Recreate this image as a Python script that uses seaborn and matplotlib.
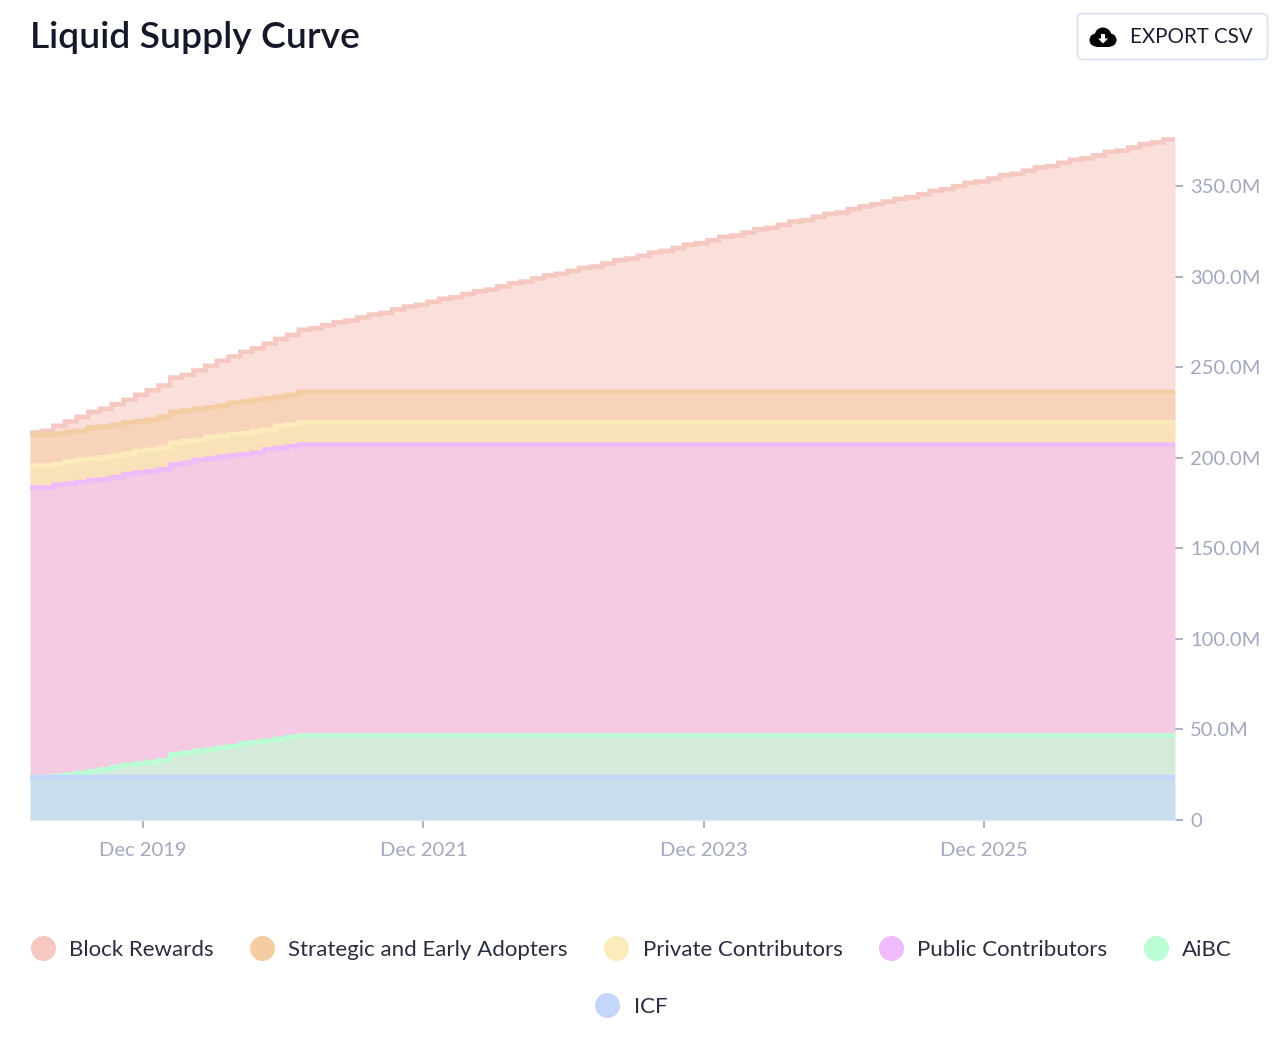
import matplotlib
matplotlib.use('Agg')
import matplotlib.pyplot as plt
from matplotlib.lines import Line2D
from matplotlib.patches import Circle, FancyBboxPatch, Polygon, Rectangle
import numpy as np
import pandas as pd
import seaborn as sns

# stacked tops per month, in millions
block_rewards = [214.0, 214.9, 217.7, 220.0, 222.6, 225.4, 227.1, 229.6, 232.0, 234.8,
                 237.3, 239.9, 244.3, 245.8, 248.2, 250.8, 253.6, 255.9, 258.5, 260.4,
                 263.0, 265.6, 267.9, 270.7, 271.6, 273.2, 274.9, 275.8, 277.5, 279.1,
                 280.0, 281.9, 283.5, 284.5, 286.1, 287.8, 288.7, 290.4, 292.0, 292.9,
                 294.6, 296.4, 297.3, 299.0, 300.7, 301.6, 303.2, 304.8, 305.6, 307.3,
                 309.1, 310.0, 311.5, 313.3, 314.2, 315.9, 317.7, 318.5, 320.1, 322.0,
                 322.7, 324.4, 326.2, 327.0, 328.6, 330.5, 331.2, 333.1, 334.7, 335.4,
                 337.3, 338.8, 340.0, 341.5, 343.0, 343.9, 345.5, 347.4, 348.3, 350.0,
                 351.8, 352.6, 354.2, 356.1, 356.8, 358.5, 360.3, 361.0, 362.9, 364.5,
                 365.4, 367.0, 368.9, 369.6, 371.3, 373.2, 374.1, 375.8]
strategic = [212.7, 212.7, 213.4, 214.4, 214.9, 216.9, 217.3, 218.2, 219.5, 220.2,
             221.0, 222.8, 225.4, 226.1, 227.1, 227.8, 228.7, 230.4, 231.1, 232.0,
             232.9, 233.7, 234.8, 236.4, 236.4, 236.4, 236.4, 236.4, 236.4, 236.4,
             236.4, 236.4, 236.4, 236.4, 236.4, 236.4, 236.4, 236.4, 236.4, 236.4,
             236.4, 236.4, 236.4, 236.4, 236.4, 236.4, 236.4, 236.4, 236.4, 236.4,
             236.4, 236.4, 236.4, 236.4, 236.4, 236.4, 236.4, 236.4, 236.4, 236.4,
             236.4, 236.4, 236.4, 236.4, 236.4, 236.4, 236.4, 236.4, 236.4, 236.4,
             236.4, 236.4, 236.4, 236.4, 236.4, 236.4, 236.4, 236.4, 236.4, 236.4,
             236.4, 236.4, 236.4, 236.4, 236.4, 236.4, 236.4, 236.4, 236.4, 236.4,
             236.4, 236.4, 236.4, 236.4, 236.4, 236.4, 236.4, 236.4]
private = [195.6, 195.6, 196.5, 198.0, 198.9, 199.4, 200.3, 201.1, 202.4, 203.9,
           204.4, 205.5, 208.4, 209.2, 209.9, 211.6, 212.1, 213.0, 213.6, 214.9,
           215.6, 217.7, 218.4, 219.5, 219.5, 219.5, 219.5, 219.5, 219.5, 219.5,
           219.5, 219.5, 219.5, 219.5, 219.5, 219.5, 219.5, 219.5, 219.5, 219.5,
           219.5, 219.5, 219.5, 219.5, 219.5, 219.5, 219.5, 219.5, 219.5, 219.5,
           219.5, 219.5, 219.5, 219.5, 219.5, 219.5, 219.5, 219.5, 219.5, 219.5,
           219.5, 219.5, 219.5, 219.5, 219.5, 219.5, 219.5, 219.5, 219.5, 219.5,
           219.5, 219.5, 219.5, 219.5, 219.5, 219.5, 219.5, 219.5, 219.5, 219.5,
           219.5, 219.5, 219.5, 219.5, 219.5, 219.5, 219.5, 219.5, 219.5, 219.5,
           219.5, 219.5, 219.5, 219.5, 219.5, 219.5, 219.5, 219.5]
public = [183.6, 183.6, 185.1, 185.8, 186.7, 187.7, 188.2, 189.3, 191.1, 191.9,
          192.6, 193.7, 196.3, 197.2, 198.9, 199.6, 200.5, 201.3, 202.0, 202.9,
          204.6, 205.5, 206.4, 207.3, 207.3, 207.3, 207.3, 207.3, 207.3, 207.3,
          207.3, 207.3, 207.3, 207.3, 207.3, 207.3, 207.3, 207.3, 207.3, 207.3,
          207.3, 207.3, 207.3, 207.3, 207.3, 207.3, 207.3, 207.3, 207.3, 207.3,
          207.3, 207.3, 207.3, 207.3, 207.3, 207.3, 207.3, 207.3, 207.3, 207.3,
          207.3, 207.3, 207.3, 207.3, 207.3, 207.3, 207.3, 207.3, 207.3, 207.3,
          207.3, 207.3, 207.3, 207.3, 207.3, 207.3, 207.3, 207.3, 207.3, 207.3,
          207.3, 207.3, 207.3, 207.3, 207.3, 207.3, 207.3, 207.3, 207.3, 207.3,
          207.3, 207.3, 207.3, 207.3, 207.3, 207.3, 207.3, 207.3]
aibc = [23.7, 23.7, 24.4, 25.1, 26.1, 26.9, 27.9, 29.4, 30.5, 31.2,
        32.1, 33.0, 36.3, 37.1, 38.2, 38.9, 39.9, 40.8, 42.4, 43.0,
        43.9, 44.8, 45.9, 46.7, 46.7, 46.7, 46.7, 46.7, 46.7, 46.7,
        46.7, 46.7, 46.7, 46.7, 46.7, 46.7, 46.7, 46.7, 46.7, 46.7,
        46.7, 46.7, 46.7, 46.7, 46.7, 46.7, 46.7, 46.7, 46.7, 46.7,
        46.7, 46.7, 46.7, 46.7, 46.7, 46.7, 46.7, 46.7, 46.7, 46.7,
        46.7, 46.7, 46.7, 46.7, 46.7, 46.7, 46.7, 46.7, 46.7, 46.7,
        46.7, 46.7, 46.7, 46.7, 46.7, 46.7, 46.7, 46.7, 46.7, 46.7,
        46.7, 46.7, 46.7, 46.7, 46.7, 46.7, 46.7, 46.7, 46.7, 46.7,
        46.7, 46.7, 46.7, 46.7, 46.7, 46.7, 46.7, 46.7]
icf = [23.7, 23.7, 23.7, 23.7, 23.7, 23.7, 23.7, 23.7, 23.7, 23.7,
       23.7, 23.7, 23.7, 23.7, 23.7, 23.7, 23.7, 23.7, 23.7, 23.7,
       23.7, 23.7, 23.7, 23.7, 23.7, 23.7, 23.7, 23.7, 23.7, 23.7,
       23.7, 23.7, 23.7, 23.7, 23.7, 23.7, 23.7, 23.7, 23.7, 23.7,
       23.7, 23.7, 23.7, 23.7, 23.7, 23.7, 23.7, 23.7, 23.7, 23.7,
       23.7, 23.7, 23.7, 23.7, 23.7, 23.7, 23.7, 23.7, 23.7, 23.7,
       23.7, 23.7, 23.7, 23.7, 23.7, 23.7, 23.7, 23.7, 23.7, 23.7,
       23.7, 23.7, 23.7, 23.7, 23.7, 23.7, 23.7, 23.7, 23.7, 23.7,
       23.7, 23.7, 23.7, 23.7, 23.7, 23.7, 23.7, 23.7, 23.7, 23.7,
       23.7, 23.7, 23.7, 23.7, 23.7, 23.7, 23.7, 23.7]

series_names = ['Block Rewards', 'Strategic and Early Adopters', 'Private Contributors',
                'Public Contributors', 'AiBC', 'ICF']
line_colors = ['#F6C8C2', '#F5CDA3', '#FCEBBB', '#F0BBFA', '#BBFDD4', '#C4D7FA']
fill_colors = ['#FADFDB', '#F7D3B9', '#F9E2B9', '#F4CBE3', '#D5EADB', '#C8DEEC']
x_tick_months = [9.67, 33.67, 57.67, 81.67]
x_tick_labels = ['Dec 2019', 'Dec 2021', 'Dec 2023', 'Dec 2025']
y_ticks = [0, 50, 100, 150, 200, 250, 300, 350]
y_tick_labels = ['0', '50.0M', '100.0M', '150.0M', '200.0M', '250.0M', '300.0M', '350.0M']

sns.set_theme(style='white')
plt.rcParams['font.family'] = ['Lato', 'DejaVu Sans']

all_tops = [block_rewards, strategic, private, public, aibc, icf]
months = np.arange(len(icf) + 1)
rows = []
for name, tops in zip(series_names, all_tops):
    # repeat the last month so the final step reaches the right edge
    rows.append(pd.DataFrame({'month': months, 'supply': tops + tops[-1:], 'series': name}))
df = pd.concat(rows, ignore_index=True)

fig = plt.figure(figsize=(12.8, 10.37), dpi=100)
ax = fig.add_axes([30 / 1280, 217 / 1037, 1145 / 1280, 720 / 1037])

for i, name in enumerate(series_names):
    top = np.array(all_tops[i] + all_tops[i][-1:])
    if i + 1 < len(all_tops):
        below = np.array(all_tops[i + 1] + all_tops[i + 1][-1:])
    else:
        below = np.zeros(len(months))
    ax.fill_between(months, below, top, step='post', color=fill_colors[i], lw=0, zorder=1, snap=False)

sns.lineplot(data=df, x='month', y='supply', hue='series', hue_order=series_names,
             palette=dict(zip(series_names, line_colors)), drawstyle='steps-post',
             estimator=None, linewidth=3.3, legend=False, ax=ax, zorder=2,
             solid_capstyle='butt', solid_joinstyle='miter')
# pixel snapping makes the small steps look dashed
for line in ax.lines:
    line.set_snap(False)

ax.set_xlim(0, 98)
ax.set_ylim(0, 720 / 1.811)
ax.set_xlabel('')
ax.set_ylabel('')
ax.yaxis.tick_right()
ax.set_xticks(x_tick_months, x_tick_labels)
ax.set_yticks(y_ticks, y_tick_labels)
ax.tick_params(axis='both', length=6, width=1.2, color='#9EA3BA', labelcolor='#A3A8BF',
               labelsize=14.5, bottom=True, right=True, left=False)
ax.tick_params(axis='x', pad=9.5)
ax.tick_params(axis='y', pad=5)
for side in ['top', 'left', 'right']:
    ax.spines[side].set_visible(False)
ax.spines['bottom'].set_color('#E4EAF4')
ax.spines['bottom'].set_linewidth(1)

# title, button and icon are placed in picture pixels
overlay = fig.add_axes([0, 0, 1, 1], zorder=3)
overlay.set_xlim(0, 1280)
overlay.set_ylim(1037, 0)
overlay.axis('off')
overlay.text(30, 38, 'Liquid Supply Curve', fontsize=26.8, fontweight='semibold', color='#141829',
             va='center', ha='left')
overlay.add_patch(FancyBboxPatch((1077.5, 13.5), 190, 46, boxstyle='round,pad=0,rounding_size=5',
                                 mutation_aspect=1, fc='white', ec='#DCE3F1', lw=1.3))
overlay.text(1130, 37, 'EXPORT CSV', fontsize=14.8, color='#1B1E2E', va='center', ha='left')
for cx, cy, r in [(1096, 40, 6.5), (1103, 36, 8.5), (1110, 40, 6.5)]:
    overlay.add_patch(Circle((cx, cy), r, fc='black', ec='none'))
overlay.add_patch(Rectangle((1096, 38), 14, 8.5, fc='black', ec='none'))
overlay.add_patch(Polygon([(1101, 34), (1105, 34), (1105, 38.5), (1108, 38.5), (1103, 43.5),
                           (1098, 38.5), (1101, 38.5)], fc='white', ec='none'))

handles = [Line2D([], [], marker='o', ls='', ms=18, mfc=c, mec='none') for c in line_colors]
legend_style = dict(frameon=False, loc='center', fontsize=16, labelcolor='#2A2D3E',
                    handletextpad=0.53, columnspacing=1.53, handlelength=1.3, borderpad=0)
fig.legend(handles[:5], series_names[:5], ncols=5, bbox_to_anchor=(630 / 1280, 1 - 950 / 1037),
           **legend_style)
fig.legend(handles[5:], series_names[5:], ncols=1, bbox_to_anchor=(630 / 1280, 1 - 1007 / 1037),
           **legend_style)

fig.savefig('out.png', dpi=100, facecolor='white')
plt.close(fig)
